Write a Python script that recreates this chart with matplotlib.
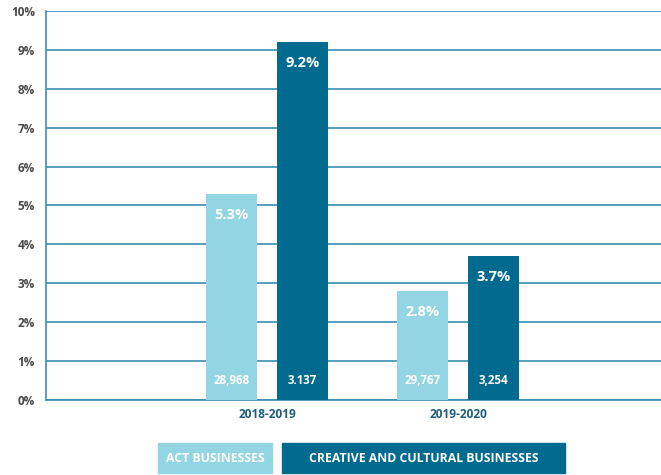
import matplotlib
matplotlib.use("Agg")
import matplotlib.pyplot as plt
from matplotlib.patches import Rectangle
import numpy as np

plt.rcParams['font.family'] = ['Open Sans', 'DejaVu Sans']

periods = ["2018-2019", "2019-2020"]
act_rates = [5.3, 2.8]
ccb_rates = [9.2, 3.7]
act_counts = ["28,968", "29,767"]
ccb_counts = ["3.137", "3,254"]
series_names = ["ACT BUSINESSES", "CREATIVE AND CULTURAL BUSINESSES"]

light = "#93d5e3"
dark = "#006a8f"
grid_col = "#3b8db0"
tick_col = "#4a4a4a"
cat_col = "#1f5f7a"

fig = plt.figure(figsize=(6.61, 4.75), dpi=100)
ax = fig.add_axes([46/661, 75/475, 1 - 46/661, (400-11)/475])

x = np.arange(len(periods))
w = 0.267
off = 0.186
b1 = ax.bar(x - off, act_rates, w, color=light, zorder=3)
b2 = ax.bar(x + off, ccb_rates, w, color=dark, zorder=3)

for bars, rates, counts in ((b1, act_rates, act_counts), (b2, ccb_rates, ccb_counts)):
    for bar, r, c in zip(bars, rates, counts):
        cx = bar.get_x() + bar.get_width() / 2
        ax.annotate(f"{r}%", (cx, r), xytext=(0, -15), textcoords="offset points",
                    ha="center", va="center", color="white", fontsize=10.5,
                    fontweight="bold", zorder=4)
        ax.text(cx, 0.5, c, ha="center", va="center", color="white",
                fontsize=8.3, fontweight="bold", zorder=4)

ax.set_xlim(-1.157, 2.063)
ax.set_ylim(0, 10)
ax.set_yticks(range(0, 11))
ax.set_yticklabels([f"{i}%" for i in range(0, 11)])
ax.yaxis.grid(True, color=grid_col, linewidth=1.2, zorder=1)
ax.set_xticks(x)
ax.set_xticklabels(periods)
ax.tick_params(axis="y", length=0, pad=8, labelcolor=tick_col, labelsize=8.5)
ax.tick_params(axis="x", length=0, pad=6, labelcolor=cat_col, labelsize=8.6)
for lbl in ax.get_xticklabels() + ax.get_yticklabels():
    lbl.set_fontweight("bold")
for s in ("top", "right"):
    ax.spines[s].set_visible(False)
for s in ("left", "bottom"):
    ax.spines[s].set_color(grid_col)
    ax.spines[s].set_linewidth(1.2)

# Legend drawn as filled label boxes under the chart
boxes = [(158, 272, light), (282, 565, dark)]
for (x0, x1, col), name in zip(boxes, series_names):
    fig.patches.append(Rectangle((x0/661, 2/475), (x1-x0)/661, 30/475,
                                 transform=fig.transFigure, color=col))
    fig.text((x0+x1)/2/661, 17/475, name, ha="center", va="center",
             color="white", fontsize=8.8, fontweight="bold")

fig.savefig("out.png", dpi=100)
